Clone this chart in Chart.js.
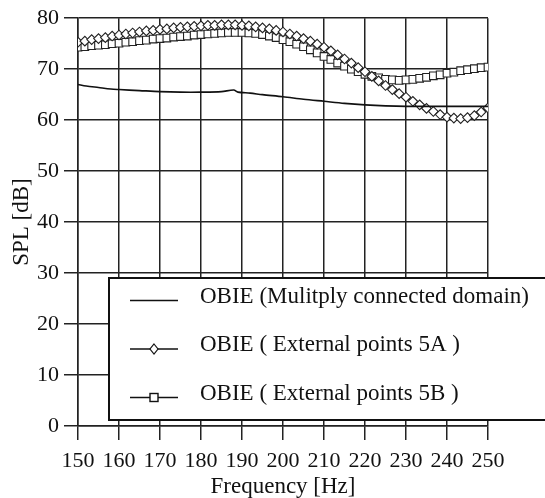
<!DOCTYPE html>
<html><head><meta charset="utf-8">
<script src="https://cdn.jsdelivr.net/npm/chart.js@4"></script>
<style>html,body{margin:0;padding:0;background:#fff}#wrap{width:545px;height:498px}</style>
</head><body><div id="wrap"><canvas id="c" width="545" height="498"></canvas></div>
<script>
// ---- data ----
const freqs = [150,151.67,153.33,155,156.67,158.33,160,161.67,163.33,165,166.67,168.33,170,171.67,173.33,175,176.67,178.33,180,181.67,183.33,185,186.67,188.33,190,191.67,193.33,195,196.67,198.33,200,201.67,203.33,205,206.67,208.33,210,211.67,213.33,215,216.67,218.33,220,221.67,223.33,225,226.67,228.33,230,231.67,233.33,235,236.67,238.33,240,241.67,243.33,245,246.67,248.33,250];
const ext5A = [75.3,75.5,75.8,76.0,76.2,76.5,76.7,76.9,77.1,77.3,77.5,77.6,77.8,77.9,78.1,78.2,78.3,78.4,78.5,78.6,78.6,78.7,78.7,78.7,78.6,78.5,78.3,78.1,77.9,77.6,77.3,76.9,76.5,76.0,75.5,74.9,74.3,73.6,72.8,72.0,71.2,70.3,69.5,68.6,67.7,66.8,66.0,65.2,64.5,63.7,63.0,62.3,61.7,61.1,60.6,60.4,60.3,60.5,60.9,61.6,62.4];
const ext5B = [74.3,74.4,74.6,74.7,74.8,75.0,75.1,75.3,75.4,75.6,75.7,75.9,76.0,76.1,76.3,76.4,76.5,76.7,76.8,76.9,77.0,77.1,77.2,77.2,77.2,77.1,77.0,76.8,76.5,76.2,75.8,75.4,74.9,74.4,73.8,73.2,72.5,71.9,71.2,70.6,70.0,69.5,69.0,68.6,68.3,68.0,67.9,67.8,67.9,68.0,68.2,68.4,68.7,68.9,69.2,69.4,69.7,69.9,70.1,70.3,70.4];
const solidFreqs = [150,152,155,158,160,165,170,175,180,185,188,189,192,195,200,205,210,215,220,225,230,240,250];
const solidValues = [67.0,66.7,66.4,66.1,66.0,65.8,65.6,65.5,65.5,65.6,65.9,65.5,65.3,65.0,64.6,64.1,63.7,63.3,63.0,62.8,62.7,62.7,62.7];
const xTicks = [150,160,170,180,190,200,210,220,230,240,250];
const yTicks = [0,10,20,30,40,50,60,70,80];
const seriesNames = ['OBIE (Mulitply connected domain)','OBIE ( External points 5A )','OBIE ( External points 5B )'];
const xTitle = 'Frequency [Hz]';
const yTitle = 'SPL [dB]';

// ---- chart ----
const FONT = "'Liberation Serif','Times New Roman',serif";
const toXY = (xs, ys) => xs.map((x, i) => ({x, y: ys[i]}));

const boxLegend = {
  id: 'boxLegend',
  afterDraw(chart) {
    const ctx = chart.ctx;
    ctx.save();
    ctx.fillStyle = '#fff';
    ctx.strokeStyle = '#111';
    ctx.lineWidth = 2;
    ctx.fillRect(109, 278, 460, 142);
    ctx.strokeRect(109, 278, 460, 142);
    const rows = [300.5, 349, 397.5];
    chart.data.datasets.forEach((ds, i) => {
      const y = rows[i];
      ctx.strokeStyle = '#111';
      ctx.lineWidth = 1.6;
      ctx.beginPath(); ctx.moveTo(130, y); ctx.lineTo(178, y); ctx.stroke();
      if (ds.pointStyle === 'rectRot') {
        ctx.beginPath();
        ctx.moveTo(154, y - 5); ctx.lineTo(158, y); ctx.lineTo(154, y + 5); ctx.lineTo(150, y); ctx.closePath();
        ctx.fillStyle = '#fff'; ctx.fill(); ctx.lineWidth = 1.2; ctx.stroke();
      } else if (ds.pointStyle === 'rect') {
        ctx.fillStyle = '#fff';
        ctx.fillRect(150, y - 4, 8, 8); ctx.lineWidth = 1.4; ctx.strokeRect(150, y - 4, 8, 8);
      }
      ctx.fillStyle = '#111';
      ctx.font = '23px ' + FONT;
      ctx.textBaseline = 'alphabetic';
      ctx.textAlign = 'left';
      ctx.fillText(ds.label, 200, y + 2);
    });
    ctx.restore();
  }
};

new Chart(document.getElementById('c'), {
  type: 'line',
  data: {
    datasets: [
      { label: seriesNames[0], data: toXY(solidFreqs, solidValues), borderColor: '#111', borderWidth: 1.6, pointRadius: 0, pointStyle: false, tension: 0.3, fill: false },
      { label: seriesNames[1], data: toXY(freqs, ext5A), borderColor: '#222', borderWidth: 1.2, pointStyle: 'rectRot', pointRadius: 4.8, pointBorderWidth: 1.1, pointBorderColor: '#222', pointBackgroundColor: '#fff', fill: false },
      { label: seriesNames[2], data: toXY(freqs, ext5B), borderColor: '#222', borderWidth: 1.2, pointStyle: 'rect', pointRadius: 5.4, pointBorderWidth: 1.1, pointBorderColor: '#222', pointBackgroundColor: '#fff', fill: false }
    ]
  },
  options: {
    responsive: false,
    animation: false,
    devicePixelRatio: 1,
    layout: { padding: { top: 18, right: 57, left: 0, bottom: 0 } },
    plugins: { legend: { display: false }, tooltip: { enabled: false } },
    scales: {
      x: {
        type: 'linear', min: 150, max: 250,
        afterBuildTicks: s => { s.ticks = xTicks.map(v => ({value: v})); },
        afterFit: s => { s.height = 72; },
        ticks: { color: '#111', font: { family: FONT, size: 22 }, padding: 8, maxRotation: 0, autoSkip: false },
        grid: { color: '#222', lineWidth: 1.5, tickLength: 14, tickColor: '#222' },
        border: { color: '#222', width: 1.5 },
        title: { display: true, text: xTitle, color: '#111', font: { family: FONT, size: 23, lineHeight: 1 }, padding: { top: 0, bottom: 0 } }
      },
      y: {
        type: 'linear', min: 0, max: 80,
        afterBuildTicks: s => { s.ticks = yTicks.map(v => ({value: v})); },
        afterFit: s => { s.width = 78; },
        ticks: { color: '#111', font: { family: FONT, size: 22 }, padding: 5 },
        grid: { color: '#222', lineWidth: 1.5, tickLength: 14, tickColor: '#222' },
        border: { color: '#222', width: 1.5 },
        title: { display: true, text: yTitle, color: '#111', font: { family: FONT, size: 23, lineHeight: 1.2 }, padding: { top: 8, bottom: 0 } }
      }
    }
  },
  plugins: [boxLegend]
});
</script>
</body></html>
